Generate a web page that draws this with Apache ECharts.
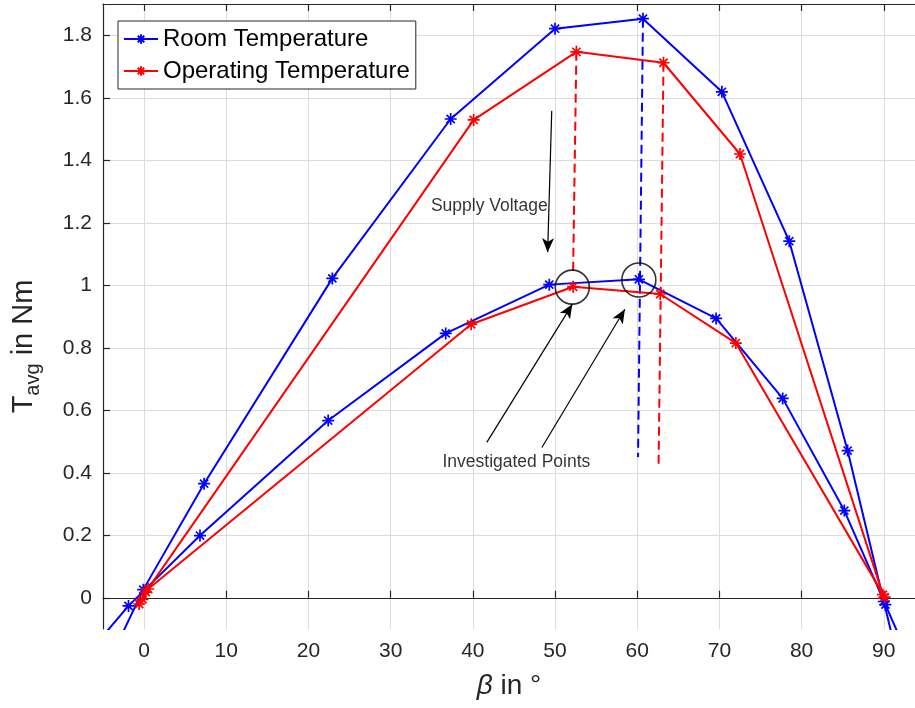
<!DOCTYPE html>
<html>
<head>
<meta charset="utf-8">
<script src="https://cdn.jsdelivr.net/npm/echarts@6/dist/echarts.min.js"></script>
<style>
  html, body { margin: 0; padding: 0; background: #fff; }
  #chart { width: 915px; height: 708px; }
</style>
</head>
<body>
<div id="chart"></div>
<script>
// Average torque over current angle beta, two supply voltages, two temperatures
const roomHigh = [[-3.0, -0.134], [-0.1, 0.026], [7.3, 0.365], [22.9, 1.022], [37.3, 1.532], [50.0, 1.821],
                  [60.7, 1.853], [70.3, 1.619], [78.5, 1.141], [85.6, 0.471], [90.0, -0.012], [91.5, -0.175]];
const roomLow  = [[-6.0, -0.153], [-1.9, -0.026], [6.8, 0.199], [22.4, 0.567], [36.7, 0.846], [49.3, 1.002],
                  [60.2, 1.019], [69.6, 0.894], [77.7, 0.638], [85.2, 0.279], [90.2, -0.022], [92.0, -0.13]];
const opHigh   = [[-0.6, -0.02], [0.2, 0.018], [40.1, 1.529], [52.6, 1.747], [63.2, 1.712], [72.5, 1.42], [89.9, 0.01]];
const opLow    = [[-0.2, -0.005], [0.5, 0.028], [39.8, 0.875], [52.2, 0.995], [62.8, 0.972], [72.0, 0.815], [90.1, 0.002]];

// Vertical guides from the upper peaks down to the investigated points
const guideRed1  = [[52.6, 1.747], [52.2, 1.045]];
const guideBlue  = [[60.7, 1.853], [60.1, 0.45]];
const guideRed2  = [[63.2, 1.712], [62.6, 0.42]];

// Circled operating points
const circled = [[52.1, 0.994], [60.2, 1.017]];

// Annotation arrows [from, to]
const arrows = [
  [[49.6, 1.558], [49.1, 1.106]],
  [[41.7, 0.497], [52.1, 0.939]],
  [[48.4, 0.481], [58.5, 0.923]]
];
const notes = [
  { name: 'Supply Voltage', value: [42.0, 1.253] },
  { name: 'Investigated Points', value: [45.3, 0.433] }
];

const xTicks = [0, 10, 20, 30, 40, 50, 60, 70, 80, 90];
const yTicks = [0, 0.2, 0.4, 0.6, 0.8, 1, 1.2, 1.4, 1.6, 1.8];

const FONT = 'Liberation Sans, Arial, Helvetica, sans-serif';
const AX = '#262626';
const GRID = '#dcdcdc';
const BLUE = '#0000ff';
const RED = '#ff0000';
const STAR = 'path://M5,0L5,10M0,5L10,5M1.6,1.6L8.4,8.4M1.6,8.4L8.4,1.6';

function mainSeries(name, data, color) {
  return {
    name: name, type: 'line', data: data, clip: true,
    symbol: STAR, symbolSize: 12, showSymbol: true,
    lineStyle: { color: color, width: 2 },
    itemStyle: { color: color, borderColor: color, borderWidth: 1.7 },
    emphasis: { disabled: true }, z: 3
  };
}
function guide(data, color) {
  return {
    type: 'line', data: data, symbol: 'none', clip: true,
    lineStyle: { color: color, width: 2, type: [9, 5] },
    emphasis: { disabled: true }, silent: true, z: 2
  };
}

const chart = echarts.init(document.getElementById('chart'), null, { renderer: 'canvas' });
chart.setOption({
  animation: false,
  backgroundColor: '#fff',
  textStyle: { fontFamily: FONT },
  grid: { left: 103, right: 0, top: 4, bottom: 79, containLabel: false },
  legend: {
    left: 118, top: 21, orient: 'vertical',
    data: ['Room Temperature', 'Operating Temperature'],
    backgroundColor: '#fff', borderColor: AX, borderWidth: 1,
    padding: [5, 6, 5, 5], itemGap: 6, itemWidth: 34, itemHeight: 12,
    textStyle: { fontSize: 24, fontFamily: FONT, color: '#000', lineHeight: 26 },
    selectedMode: false
  },
  xAxis: [{
    type: 'value', min: -5, max: 93.8,
    name: '{i|β} in °', nameLocation: 'middle', nameGap: 43,
    nameTextStyle: { fontSize: 28, color: '#262626', fontFamily: FONT,
      rich: { i: { fontSize: 28, fontStyle: 'italic', fontFamily: FONT, color: '#262626' } } },
    axisLine: { show: true, lineStyle: { color: AX, width: 1.2 } },
    axisTick: { show: true, inside: true, length: 7, customValues: xTicks, lineStyle: { color: AX, width: 1.2 } },
    axisLabel: { customValues: xTicks, fontSize: 21, color: '#262626', margin: 12, fontFamily: FONT },
    splitLine: { show: true, lineStyle: { color: GRID, width: 1 } }
  }, {
    type: 'value', min: -5, max: 93.8, position: 'top',
    axisLine: { show: true, onZero: false, lineStyle: { color: AX, width: 1.2 } },
    axisTick: { show: true, inside: true, length: 7, customValues: xTicks, lineStyle: { color: AX, width: 1.2 } },
    axisLabel: { show: false },
    splitLine: { show: false }
  }],
  yAxis: [{
    type: 'value', min: -0.1, max: 1.9,
    name: '{t|T}{s|avg}{t| in Nm}', nameLocation: 'middle', nameGap: 60, nameRotate: 90,
    nameTextStyle: { color: '#262626', fontFamily: FONT, padding: [0, 60, 0, 0],
      rich: {
        t: { fontSize: 29, fontFamily: FONT, color: '#262626' },
        s: { fontSize: 20, fontFamily: FONT, color: '#262626', padding: [18, 0, 0, 0] }
      } },
    axisLine: { show: true, onZero: false, lineStyle: { color: AX, width: 1.2 } },
    axisTick: { show: true, inside: true, length: 7, customValues: yTicks, lineStyle: { color: AX, width: 1.2 } },
    axisLabel: { customValues: yTicks, fontSize: 21, color: '#262626', margin: 11, fontFamily: FONT },
    splitLine: { show: true, lineStyle: { color: GRID, width: 1 } }
  }],
  series: [
    guide(guideRed1, RED),
    guide(guideBlue, BLUE),
    guide(guideRed2, RED),
    mainSeries('Room Temperature', roomHigh, BLUE),
    mainSeries('Room Temperature', roomLow, BLUE),
    mainSeries('Operating Temperature', opHigh, RED),
    mainSeries('Operating Temperature', opLow, RED),
    {
      type: 'scatter', data: circled, symbol: 'circle', symbolSize: 34, silent: true,
      itemStyle: { color: 'rgba(0,0,0,0)', borderColor: '#000', borderWidth: 1.6 }, z: 4
    },
    {
      type: 'line', data: [], silent: true,
      markLine: {
        silent: true, animation: false,
        symbol: ['none', 'arrow'], symbolSize: [9, 14],
        label: { show: false },
        lineStyle: { color: '#000', width: 1.2, type: 'solid' },
        emphasis: { disabled: true },
        data: arrows.map(a => [{ coord: a[0] }, { coord: a[1] }])
      }
    },
    {
      type: 'scatter', data: notes, symbolSize: 0, silent: true,
      label: { show: true, position: 'inside', formatter: '{b}', color: '#000', fontSize: 17.5, fontFamily: FONT },
      z: 5
    }
  ]
});
</script>
</body>
</html>
